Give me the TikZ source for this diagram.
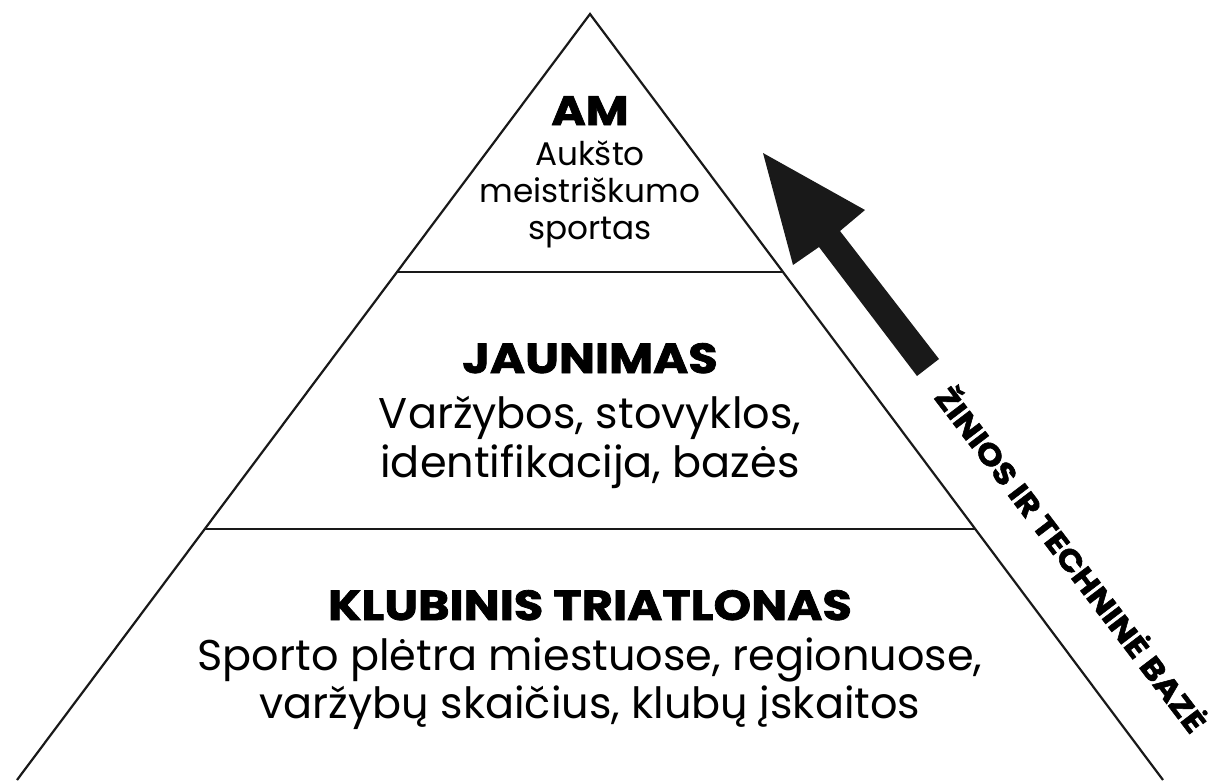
\documentclass[tikz,border=0pt]{standalone}
\usepackage{fontspec}
\setmainfont{Poppins}
\newfontfamily\heavy{Poppins}[UprightFont={* Bold},FakeBold=1.8,FakeStretch=1.14]
\begin{document}
\begin{tikzpicture}[x=1pt,y=-1pt,
  edge/.style={draw=black!90,line width=2.2pt,line join=miter},
  level/.style={draw=black!90,line width=2.6pt},
  head/.style={font=\heavy\fontsize{42}{42}\selectfont,anchor=base,inner sep=0pt},
  txt/.style={font=\fontsize{43}{43}\selectfont,anchor=base,inner sep=0pt},
  small/.style={font=\fontsize{32.7}{33}\selectfont,anchor=base,inner sep=0pt}]
\useasboundingbox (0,0) rectangle (1216,780);
% pyramid
\coordinate (apex) at (590,14);
\coordinate (bl) at (17,780);
\coordinate (br) at (1163,780);
\coordinate (l1) at (398,272);
\coordinate (r1) at (782,272);
\coordinate (l2) at (205,529);
\coordinate (r2) at (975,529);
\draw[edge] (bl) -- (apex) -- (br);
\draw[level] (l1) -- (r1);
\draw[level] (l2) -- (r2);
% top
\node[head,font=\heavy\fontsize{41}{41}\selectfont] (am) at (590,125) {AM};
\node[small] (t1) at (590,165) {Aukšto};
\node[small] (t2) at (590,202) {meistriškumo};
\node[small] (t3) at (590,239) {sportas};
% middle
\node[head] (jau) at (590,373) {JAUNIMAS};
\node[txt] (m1) at (590,428) {Varžybos, stovyklos,};
\node[txt] (m2) at (590,477) {identifikacija, bazės};
% bottom
\node[head] (klub) at (590,620) {KLUBINIS TRIATLONAS};
\node[txt] (b1) at (590,670) {Sporto plėtra miestuose, regionuose,};
\node[txt] (b2) at (590,718) {varžybų skaičius, klubų įskaitos};
% arrow
\coordinate (tip) at (763,153);
\coordinate (hr) at (865,210);
\coordinate (hl) at (793,265);
\coordinate (sr) at (840,231);
\coordinate (sl) at (819,247);
\coordinate (er) at (939,359);
\coordinate (el) at (917,376);
\fill[black!90] (tip) -- (hr) -- (sr) -- (er) -- (el) -- (sl) -- (hl) -- cycle;
% side label
\node[font=\heavy\fontsize{30}{30}\selectfont,rotate=-52.7,inner sep=0pt] (lbl) at (1073,558) {ŽINIOS IR TECHNINĖ BAZĖ};
\end{tikzpicture}
\end{document}
